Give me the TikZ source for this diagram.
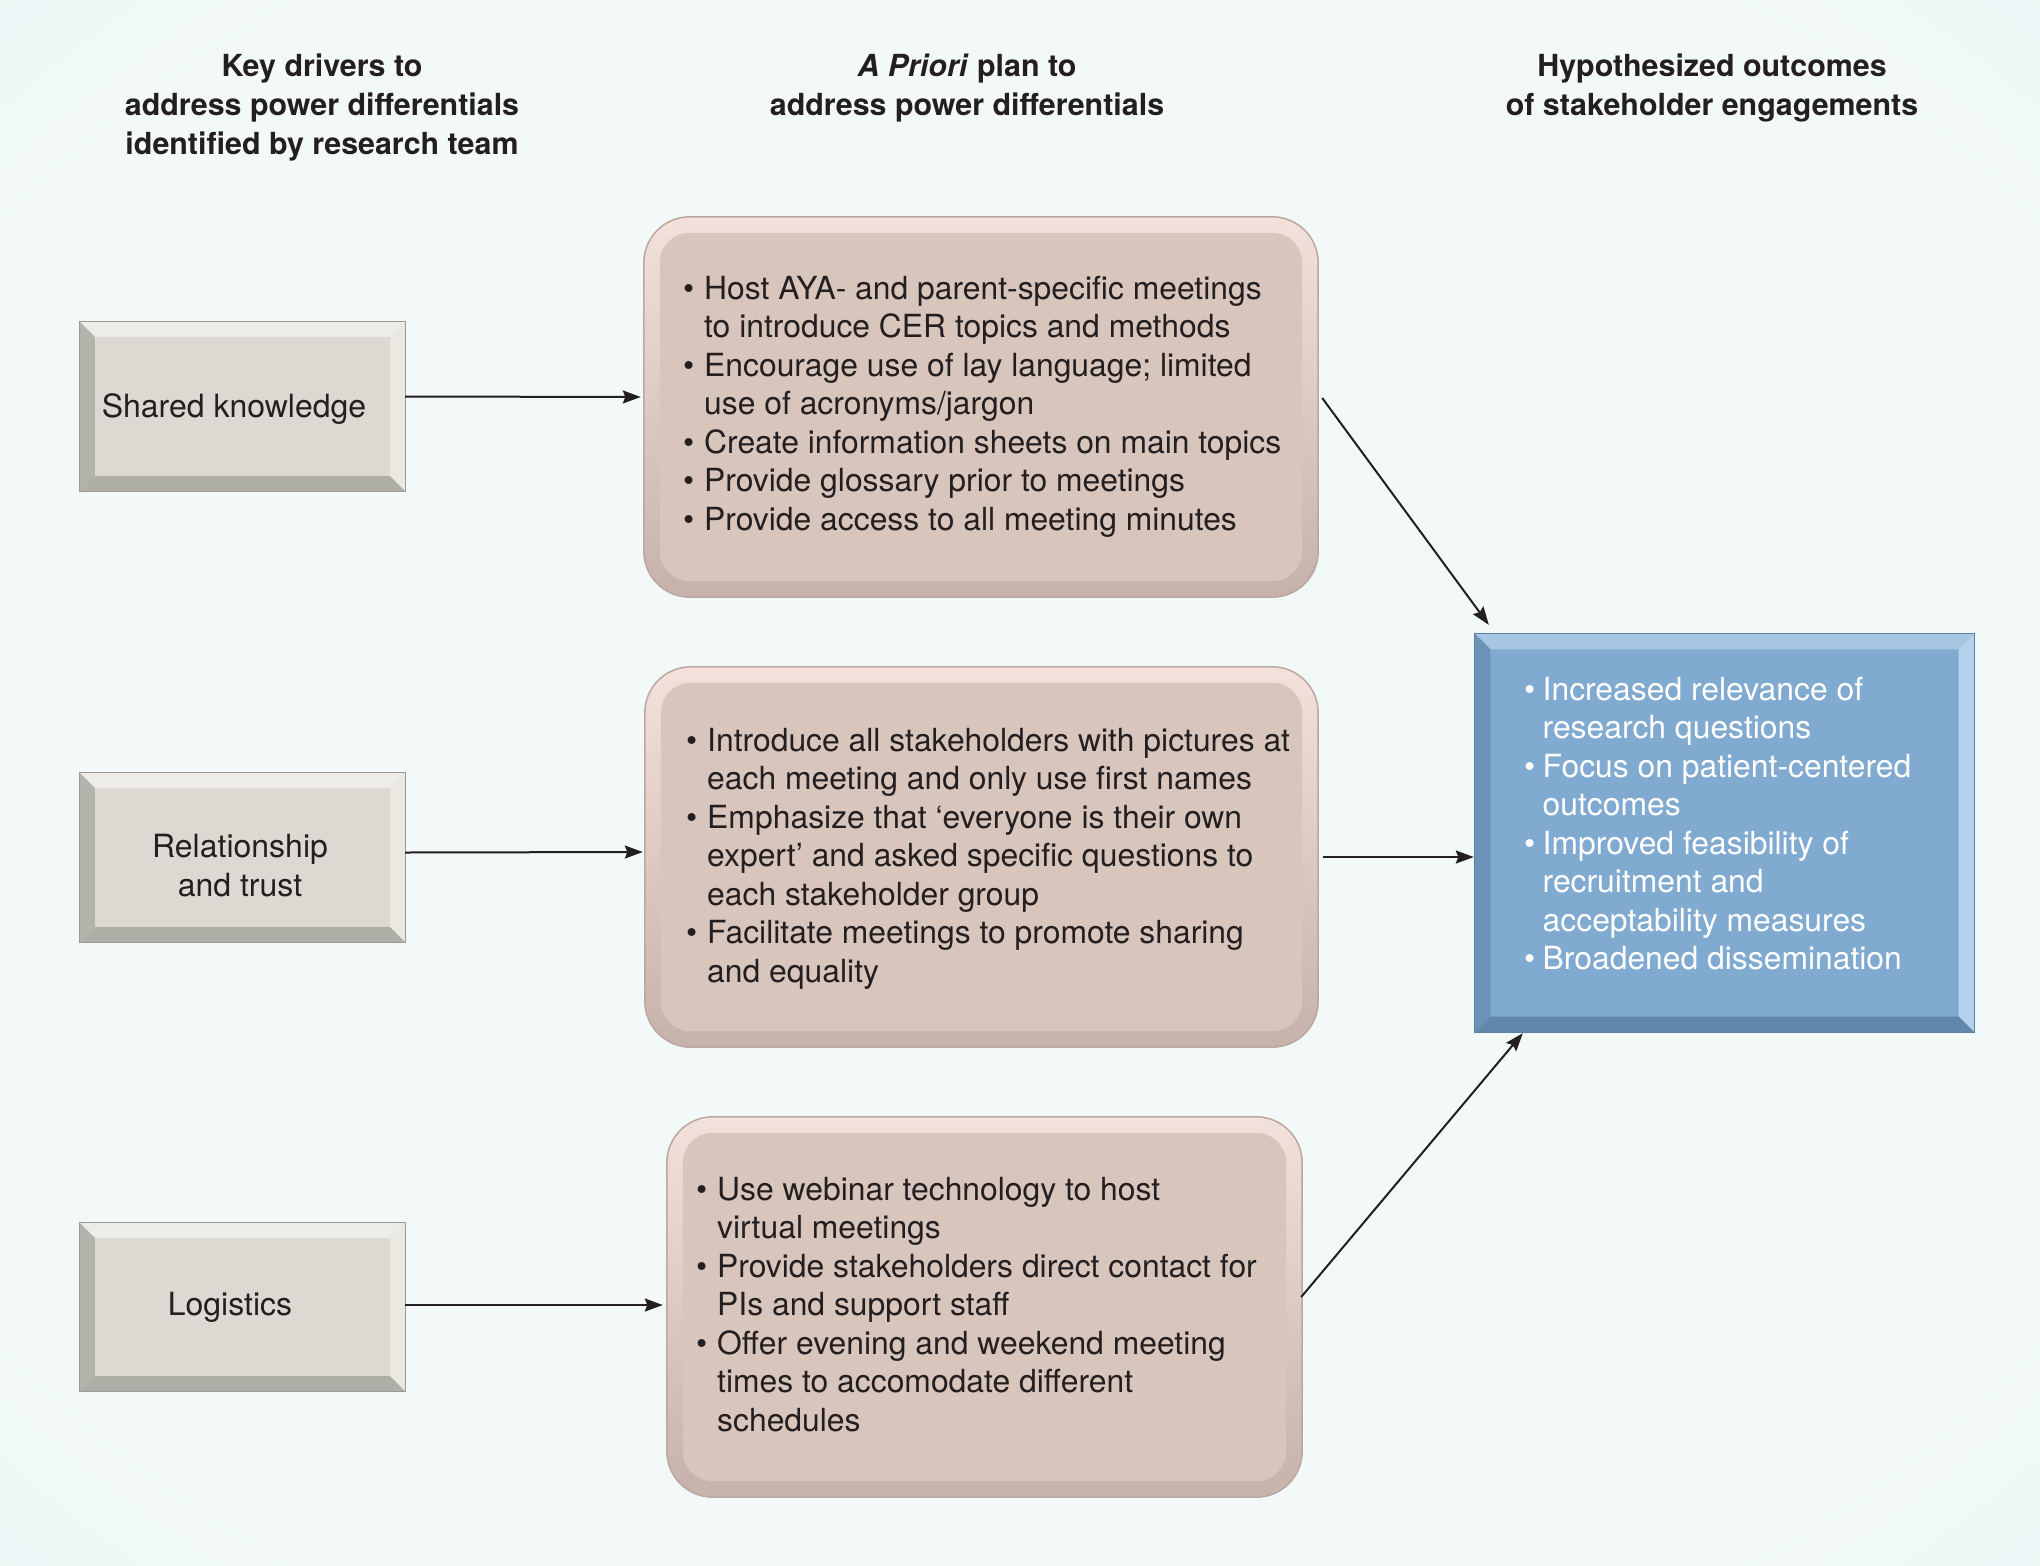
\documentclass[tikz,border=0pt]{standalone}
\usepackage{fontspec}
\setmainfont{TeX Gyre Heros}
\usetikzlibrary{arrows.meta,calc}
\pgfdeclarelayer{back}
\pgfdeclarelayer{mid}
\pgfsetlayers{back,mid,main}
\definecolor{bgc}{HTML}{F3F9F9}
\definecolor{bgm}{HTML}{DFF1EF}
\definecolor{bge}{HTML}{C9E6E3}
\definecolor{ink}{HTML}{231F20}
\definecolor{lface}{HTML}{DCD9D2}
\definecolor{ltop}{HTML}{EEECE6}
\definecolor{lleft}{HTML}{B3B2AB}
\definecolor{lright}{HTML}{E9E8E1}
\definecolor{lbot}{HTML}{AEADA6}
\definecolor{lout}{HTML}{9A9993}
\definecolor{bface}{HTML}{80AAD0}
\definecolor{btop}{HTML}{A7C6E2}
\definecolor{bleft}{HTML}{6B93B7}
\definecolor{bright}{HTML}{B5D2EC}
\definecolor{bbot}{HTML}{6188AA}
\definecolor{bout}{HTML}{5A82A3}
\definecolor{mface}{HTML}{D8C5BC}
\definecolor{rimT}{HTML}{F2E2DB}
\definecolor{rimM}{HTML}{ECDAD2}
\definecolor{rimB}{HTML}{C6B2AA}
\definecolor{rimO}{HTML}{BBA8A0}
\pgfdeclareradialshading{bgshade}{\pgfpoint{0bp}{0bp}}{color(0bp)=(bgc); color(30bp)=(bgc); color(50bp)=(bgm); color(72bp)=(bge)}
\newcommand\bl{\makebox[21pt][l]{\textbullet}}
\newcommand\ct{\hspace*{21pt}}
\newcommand\bb{\makebox[18.5pt][l]{\textbullet}}
\newcommand\cb{\hspace*{18.5pt}}
\newcommand\bevelbox[8]{%
\begin{pgfonlayer}{mid}
\fill[#3] (#1.north west) rectangle (#1.south east);
\fill[#4] (#1.north west) -- (#1.north east) -- ([xshift=-#2pt,yshift=-#2pt]#1.north east) -- ([xshift=#2pt,yshift=-#2pt]#1.north west) -- cycle;
\fill[#5] (#1.north west) -- ([xshift=#2pt,yshift=-#2pt]#1.north west) -- ([xshift=#2pt,yshift=#2pt]#1.south west) -- (#1.south west) -- cycle;
\fill[#6] (#1.north east) -- (#1.south east) -- ([xshift=-#2pt,yshift=#2pt]#1.south east) -- ([xshift=-#2pt,yshift=-#2pt]#1.north east) -- cycle;
\fill[#7] (#1.south west) -- ([xshift=#2pt,yshift=#2pt]#1.south west) -- ([xshift=-#2pt,yshift=#2pt]#1.south east) -- (#1.south east) -- cycle;
\draw[#8, line width=1.2pt] (#1.north west) rectangle (#1.south east);
\end{pgfonlayer}}
\newcommand\roundbox[1]{%
\begin{pgfonlayer}{mid}
\shade[top color=rimT, middle color=rimM, bottom color=rimB, rounded corners=46pt, draw=rimO, line width=1.5pt] (#1.north west) rectangle (#1.south east);
\fill[mface, rounded corners=30pt] ([xshift=16pt,yshift=-16pt]#1.north west) rectangle ([xshift=-16pt,yshift=16pt]#1.south east);
\end{pgfonlayer}}
\begin{document}
\begin{tikzpicture}[x=1pt,y=-1pt,
  boxnode/.style={rectangle, inner sep=0pt, draw=none},
  body/.style={inner sep=0pt, align=left, text=ink, font=\fontsize{31.85pt}{38.5pt}\selectfont},
  lbl/.style={inner sep=0pt, align=center, text=ink, font=\fontsize{32pt}{39pt}\selectfont},
  head/.style={inner sep=0pt, align=center, text=ink, font=\fontsize{30.4pt}{38.7pt}\selectfont\bfseries},
  arr/.style={draw=ink, line width=2pt, -{Stealth[length=18pt,width=13pt,inset=2.5pt]}}]
\useasboundingbox (0,0) rectangle (2040,1566);
\begin{pgfonlayer}{back}
\shade[shading=bgshade] (0,0) rectangle (2040,1566);
\end{pgfonlayer}

% headers
\node[head, anchor=north] (h1) at (322,54) {\rule{0pt}{22pt}Key drivers to\\address power differentials\\identified by research team};
\node[head, anchor=north] (h2) at (967,54) {\rule{0pt}{22pt}\textit{A Priori} plan to\\address power differentials};
\node[head, anchor=north] (h3) at (1712,54) {\rule{0pt}{22pt}Hypothesized outcomes\\of stakeholder engagements};

% left boxes
\node[boxnode, minimum width=325pt, minimum height=169pt] (sk) at (242.5,406.5) {};
\node[boxnode, minimum width=325pt, minimum height=169pt] (rt) at (242.5,857.5) {};
\node[boxnode, minimum width=325pt, minimum height=168pt] (lg) at (242.5,1307) {};
\bevelbox{sk}{15}{lface}{ltop}{lleft}{lright}{lbot}{lout}
\bevelbox{rt}{15}{lface}{ltop}{lleft}{lright}{lbot}{lout}
\bevelbox{lg}{15}{lface}{ltop}{lleft}{lright}{lbot}{lout}
\node[lbl, anchor=north] (skt) at (234,393) {\rule{0pt}{24pt}Shared knowledge};
\node[lbl, anchor=north] (rtt) at (240,833) {\rule{0pt}{24pt}Relationship\\and trust};
\node[lbl, anchor=north] (lgt) at (230,1291) {\rule{0pt}{24pt}Logistics};

% middle boxes
\node[boxnode, minimum width=674pt, minimum height=380pt] (b1) at (981,407) {};
\node[boxnode, minimum width=673pt, minimum height=380pt] (b2) at (981.5,857) {};
\node[boxnode, minimum width=635pt, minimum height=380pt] (b3) at (984.5,1307) {};
\roundbox{b1}
\roundbox{b2}
\roundbox{b3}
\node[body, anchor=north west] (t1) at (683,275) {\rule{0pt}{24pt}\bl Host AYA- and parent-specific meetings\\
\ct to introduce CER topics and methods\\
\bl Encourage use of lay language; limited\\
\ct use of acronyms/jargon\\
\bl Create information sheets on main topics\\
\bl Provide glossary prior to meetings\\
\bl Provide access to all meeting minutes};
\node[body, anchor=north west] (t2) at (686,727) {\rule{0pt}{24pt}\bl Introduce all stakeholders with pictures at\\
\ct each meeting and only use first names\\
\bl Emphasize that ‘everyone is their own\\
\ct expert’ and asked specific questions to\\
\ct each stakeholder group\\
\bl Facilitate meetings to promote sharing\\
\ct and equality};
\node[body, anchor=north west] (t3) at (696,1176) {\rule{0pt}{24pt}\bl Use webinar technology to host\\
\ct virtual meetings\\
\bl Provide stakeholders direct contact for\\
\ct PIs and support staff\\
\bl Offer evening and weekend meeting\\
\ct times to accomodate different\\
\ct schedules};

% outcome box
\node[boxnode, minimum width=499pt, minimum height=398pt] (bl) at (1724.5,833) {};
\bevelbox{bl}{15.5}{bface}{btop}{bleft}{bright}{bbot}{bout}
\node[body, anchor=north west, text=white] (t4) at (1524,676) {\rule{0pt}{24pt}\bb Increased relevance of\\
\cb research questions\\
\bb Focus on patient-centered\\
\cb outcomes\\
\bb Improved feasibility of\\
\cb recruitment and\\
\cb acceptability measures\\
\bb Broadened dissemination};

% connectors
\draw[arr] ([yshift=10pt]sk.east) -- ([yshift=10pt,xshift=-3pt]b1.west);
\draw[arr] ([yshift=5pt]rt.east) -- ([yshift=5pt,xshift=-2pt]b2.west);
\draw[arr] ([yshift=2pt]lg.east) -- ([yshift=2pt,xshift=-4pt]b3.west);
\draw[arr] ([xshift=4pt,yshift=9pt]b1.east) -- ([xshift=14pt,yshift=9pt]bl.north west);
\draw[arr] ([xshift=5pt]b2.east) -- ([xshift=-1pt,yshift=-24pt]bl.west);
\draw[arr] ([xshift=-1pt,yshift=10pt]b3.east) -- ([xshift=48pt,yshift=-1pt]bl.south west);
\end{tikzpicture}
\end{document}
